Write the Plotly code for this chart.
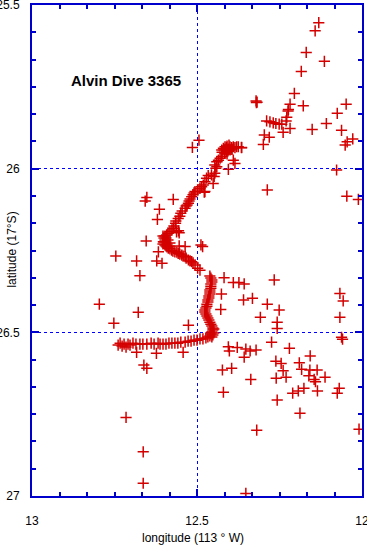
import plotly.graph_objects as go

# Dive track (longitude in degrees past 113 W, latitude in degrees past 17 S)
track_lon = [12.739, 12.733, 12.727, 12.721, 12.715, 12.709, 12.703, 12.694, 12.685, 12.673,
             12.664, 12.652, 12.639, 12.630, 12.618, 12.612, 12.603, 12.594, 12.585, 12.576,
             12.567, 12.558, 12.549, 12.536, 12.527, 12.518, 12.509, 12.500, 12.491, 12.482,
             12.473, 12.467, 12.461,
             12.458, 12.455, 12.452, 12.452, 12.455, 12.458, 12.461, 12.464, 12.467, 12.470,
             12.473, 12.476, 12.476, 12.473, 12.470, 12.470, 12.467, 12.467, 12.464, 12.464,
             12.461, 12.461, 12.461, 12.458, 12.458, 12.458, 12.455, 12.455, 12.458, 12.461,
             12.449, 12.449, 12.452, 12.455,
             12.491, 12.498, 12.506, 12.512, 12.516, 12.521, 12.526, 12.533, 12.536, 12.542,
             12.546, 12.552, 12.557, 12.561, 12.567, 12.573, 12.577, 12.582, 12.587, 12.591,
             12.594, 12.597, 12.602,
             12.603, 12.600, 12.597, 12.594, 12.591, 12.588, 12.594, 12.600, 12.585, 12.582,
             12.603, 12.597,
             12.592, 12.588, 12.582, 12.576, 12.572, 12.570, 12.565, 12.564, 12.557, 12.552,
             12.549, 12.545, 12.536, 12.533, 12.530, 12.526, 12.524, 12.521, 12.516, 12.512,
             12.509, 12.506,
             12.498, 12.491, 12.486, 12.481, 12.476, 12.471, 12.466, 12.456, 12.446, 12.443,
             12.446, 12.440, 12.435, 12.440, 12.430, 12.425, 12.417, 12.410,
             12.425, 12.420, 12.415, 12.410, 12.405, 12.400, 12.395, 12.390, 12.385, 12.380,
             12.375, 12.365, 12.418, 12.412, 12.406, 12.400, 12.394, 12.409, 12.403, 12.424,
             12.415, 12.409]
track_lat = [26.539, 26.533, 26.542, 26.536, 26.545, 26.536, 26.539, 26.533, 26.536, 26.536,
             26.536, 26.536, 26.533, 26.536, 26.533, 26.536, 26.536, 26.536, 26.533, 26.533,
             26.533, 26.533, 26.530, 26.530, 26.527, 26.527, 26.524, 26.524, 26.520, 26.520,
             26.517, 26.514, 26.511,
             26.505, 26.499, 26.493, 26.487, 26.481, 26.475, 26.469, 26.462, 26.456, 26.450,
             26.444, 26.438, 26.432, 26.426, 26.420, 26.414, 26.407, 26.401, 26.395, 26.389,
             26.383, 26.377, 26.371, 26.365, 26.359, 26.352, 26.346, 26.340, 26.334, 26.328,
             26.502, 26.490, 26.508, 26.514,
             26.310, 26.304, 26.294, 26.288, 26.284, 26.282, 26.279, 26.273, 26.269, 26.267,
             26.264, 26.261, 26.259, 26.255, 26.254, 26.252, 26.249, 26.245, 26.243, 26.239,
             26.236, 26.233, 26.223,
             26.206, 26.212, 26.218, 26.224, 26.230, 26.218, 26.212, 26.224, 26.236, 26.227,
             26.230, 26.206,
             26.203, 26.197, 26.193, 26.187, 26.182, 26.175, 26.167, 26.160, 26.152, 26.145,
             26.136, 26.129, 26.121, 26.114, 26.111, 26.106, 26.099, 26.093, 26.086, 26.080,
             26.074, 26.070,
             26.065, 26.060, 26.055, 26.050, 26.040, 26.029, 26.021, 26.019, 26.014, 25.999,
             25.989, 25.994, 25.974, 25.979, 25.968, 25.963, 25.950, 25.948,
             25.943, 25.938, 25.933, 25.936, 25.940, 25.933, 25.936, 25.933, 25.936, 25.933,
             25.933, 25.936, 25.943, 25.940, 25.946, 25.943, 25.940, 25.931, 25.928, 25.950,
             25.952, 25.955]

# Scattered fixes
fix_lon = [12.131, 12.142, 12.169, 12.114, 12.184, 12.205, 12.321, 12.318, 12.320, 12.218,
           12.178, 12.223, 12.224, 12.048, 12.075, 12.228, 12.230, 12.289, 12.279, 12.269,
           12.261, 12.251, 12.243, 12.108, 12.218, 12.151, 12.062, 12.239, 12.296, 12.281,
           12.299, 12.028, 12.045, 12.051, 12.365,
           12.077, 12.046, 12.011, 12.287, 12.067, 12.057, 12.067, 12.062, 12.059, 12.009,
           12.359, 12.332, 12.287, 12.251, 12.308, 12.257, 12.257, 12.428, 12.426, 12.390,
           12.373, 12.357, 12.266, 12.274, 12.220, 12.405, 12.402, 12.378, 12.352, 12.339,
           12.321, 12.357, 12.261, 12.245, 12.190, 12.157, 12.423, 12.395, 12.239, 12.183,
           12.158, 12.136, 12.161, 12.230, 12.260, 12.337, 12.145, 12.141, 12.112, 12.176,
           12.193, 12.210, 12.135, 12.069, 12.075, 12.420, 12.257, 12.188, 12.319, 12.352,
           12.715, 12.663, 12.663, 12.796, 12.678, 12.752, 12.526, 12.683, 12.623, 12.542,
           12.661, 12.652, 12.673,
           12.652, 12.657, 12.572, 12.614, 12.620, 12.654, 12.746, 12.683, 12.622, 12.606,
           12.488, 12.483, 12.562, 12.556, 12.536, 12.554, 12.617, 12.418, 12.514, 12.494,
           12.476, 12.554, 12.390, 12.385, 12.405, 12.448, 12.451, 12.478]
fix_lat = [25.554, 25.579, 25.645, 25.672, 25.703, 25.770, 25.793, 25.797, 25.798, 25.803,
           25.808, 25.819, 25.824, 25.803, 25.831, 25.843, 25.854, 25.854, 25.857, 25.860,
           25.862, 25.864, 25.864, 25.862, 25.877, 25.880, 25.883, 25.889, 25.897, 25.904,
           25.926, 25.909, 25.918, 25.928, 25.935,
           26.004, 26.084, 26.094, 26.065, 26.381, 26.404, 26.454, 26.515, 26.521, 26.796,
           26.401, 26.396, 26.414, 26.432, 26.454, 26.469, 26.488, 26.430, 26.383, 26.348,
           26.348, 26.352, 26.340, 26.530, 26.549, 26.544, 26.557, 26.546, 26.551, 26.557,
           26.554, 26.576, 26.588, 26.595, 26.593, 26.572, 26.615, 26.610, 26.617, 26.613,
           26.615, 26.615, 26.633, 26.637, 26.640, 26.644, 26.644, 26.651, 26.637, 26.671,
           26.679, 26.686, 26.679, 26.671, 26.686, 26.683, 26.707, 26.747, 26.799, 26.992,
           26.760, 26.865, 26.961, 26.414, 26.439, 26.472, 26.478, 26.561, 26.564, 26.561,
           26.600, 26.610, 26.327,
           26.088, 26.099, 26.094, 26.124, 26.155, 26.221, 26.267, 26.282, 26.282, 26.289,
           26.233, 26.238, 26.193, 26.190, 26.238, 26.236, 26.254, 26.333, 25.935, 25.913,
           26.070, 26.196, 25.974, 25.984, 26.002, 26.024, 26.045, 26.072]

x_ticks = [13, 12.5, 12]
x_tick_text = ["13", "12.5", "12"]
y_ticks = [25.5, 26, 26.5, 27]
y_tick_text = ["25.5", "26", "26.5", "27"]
x_range = [13, 12]
y_range = [27, 25.5]

RED = "#d40000"
BLUE = "#0000cc"
GRID = "#0000ff"
FONT = "Liberation Sans, Arial, sans-serif"

marker = dict(symbol="cross-thin", size=8, color=RED, line=dict(color=RED, width=1.5))

fig = go.Figure()
fig.add_trace(go.Scatter(x=track_lon, y=track_lat, mode="markers", marker=marker,
                         hoverinfo="skip", showlegend=False))
fig.add_trace(go.Scatter(x=fix_lon, y=fix_lat, mode="markers", marker=marker,
                         hoverinfo="skip", showlegend=False))
# invisible trace to carry the mirrored (top/right) tick axes
fig.add_trace(go.Scatter(x=[x_range[0]], y=[y_range[0]], xaxis="x2", yaxis="y2",
                         mode="markers", marker=dict(opacity=0), hoverinfo="skip",
                         showlegend=False))

minor_x = dict(dtick=0.5 / 6, tick0=12, ticks="inside", ticklen=4, tickwidth=2,
               tickcolor=BLUE, showgrid=False)
minor_y = dict(dtick=0.5 / 6, tick0=25.5, ticks="inside", ticklen=4, tickwidth=2,
               tickcolor=BLUE, showgrid=False)

axis_common = dict(
    showline=True, linecolor=BLUE, linewidth=2,
    ticks="inside", ticklen=7, tickwidth=2, tickcolor=BLUE,
    zeroline=False, automargin=False, ticklabeloverflow="allow",
    tickfont=dict(family=FONT, size=12, color="black"),
)

fig.update_layout(
    xaxis=dict(range=x_range, tickvals=x_ticks, ticktext=x_tick_text, minor=minor_x,
               showgrid=True, gridcolor=GRID, gridwidth=1, griddash="dot",
               ticklabelstandoff=13, **axis_common),
    yaxis=dict(range=y_range, tickvals=y_ticks, ticktext=y_tick_text, minor=minor_y,
               showgrid=True, gridcolor=GRID, gridwidth=1, griddash="dot",
               ticklabelstandoff=8, **axis_common),
    xaxis2=dict(range=x_range, tickvals=x_ticks, ticktext=x_tick_text, minor=minor_x,
                overlaying="x", side="top", anchor="y", showgrid=False,
                showticklabels=False, **axis_common),
    yaxis2=dict(range=y_range, tickvals=y_ticks, ticktext=y_tick_text, minor=minor_y,
                overlaying="y", side="right", anchor="x", showgrid=False,
                showticklabels=False, **axis_common),
    width=367, height=546,
    margin=dict(l=32, r=5, t=5, b=50),
    paper_bgcolor="white", plot_bgcolor="white",
)

fig.add_annotation(
    text="<b>Alvin Dive 3365</b>", xref="paper", yref="paper",
    x=0.112, y=0.847, xanchor="left", yanchor="middle", showarrow=False,
    font=dict(family=FONT, size=15, color="black"),
)
fig.add_annotation(
    text="longitude (113 ° W)", xref="paper", yref="paper",
    x=0.488, y=-0.086, xanchor="center", yanchor="middle", showarrow=False,
    font=dict(family=FONT, size=12, color="black"),
)
fig.add_annotation(
    text="latitude (17°S)", xref="paper", yref="paper", textangle=-90,
    x=-0.062, y=0.501, xanchor="center", yanchor="middle", showarrow=False,
    font=dict(family=FONT, size=12, color="black"),
)

fig.write_html(
    "out.html",
    config={"displayModeBar": False},
    post_script="document.body.style.margin='0';document.body.style.overflow='hidden';",
)
